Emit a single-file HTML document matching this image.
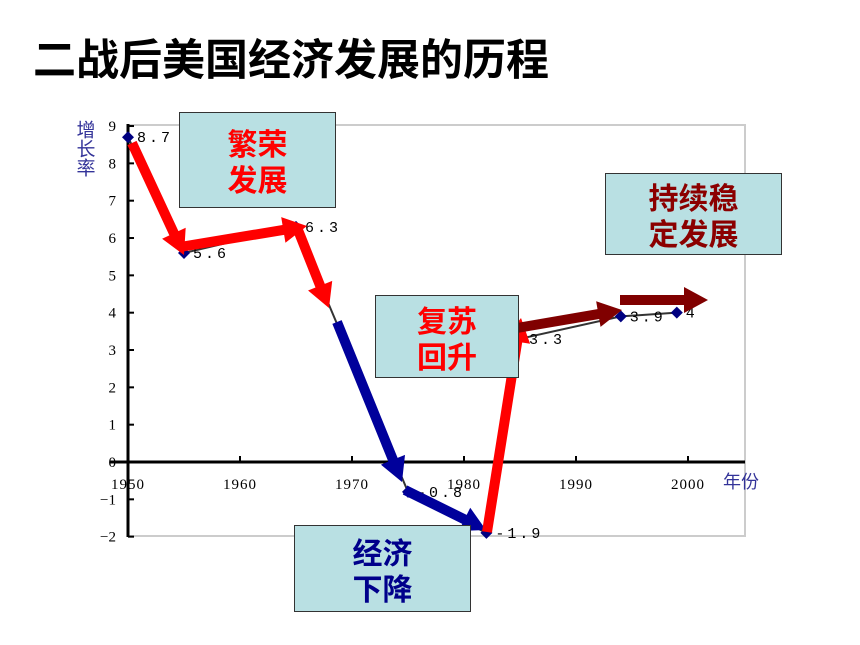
<!DOCTYPE html>
<html><head><meta charset="utf-8"><style>
body{margin:0;background:#fff;width:860px;height:645px;overflow:hidden;font-family:"Liberation Sans","Noto Sans CJK SC",sans-serif}
.box{position:absolute;background:#b9e0e3;border:1px solid #333;box-sizing:border-box;display:flex;align-items:center;justify-content:center;text-align:center;font-weight:bold;font-size:30px;line-height:36px;font-family:"Noto Sans CJK SC",sans-serif}
</style></head><body>
<div style="position:absolute;left:33px;top:26px;font-size:43px;font-weight:bold;font-family:'Noto Sans CJK SC',sans-serif;color:#000">二战后美国经济发展的历程</div>
<svg id="chart" width="860" height="645" style="position:absolute;left:0;top:0"></svg>
<div class="box" style="left:179px;top:112px;width:157px;height:96px;color:#f00">繁荣<br>发展</div>
<div class="box" style="left:605px;top:173px;width:177px;height:82px;color:#8b0000">持续稳<br>定发展</div>
<div class="box" style="left:375px;top:295px;width:144px;height:83px;color:#f00">复苏<br>回升</div>
<div class="box" style="left:294px;top:525px;width:177px;height:87px;color:#00008b">经济<br>下降</div>
<script>
const years=[1950,1955,1965,1975,1982,1985,1994,1999];
const rates=[8.7,5.6,6.3,-0.8,-1.9,3.3,3.9,4];
const yTicks=[-2,-1,0,1,2,3,4,5,6,7,8,9];
const xTicks=[1950,1960,1970,1980,1990,2000];
const X=y=>128+(y-1950)*11.2;
const Y=v=>462-v*37.33;
const s=document.getElementById('chart');
const NS='http://www.w3.org/2000/svg';
function mk(t,a,p){const e=document.createElementNS(NS,t);for(const k in a)e.setAttribute(k,a[k]);(p||s).appendChild(e);return e;}
let e;
e=mk('rect',{x:128,y:125,width:617,height:411,fill:'none',stroke:'#ccc','stroke-width':2});


e=mk('line',{x1:128,y1:124,x2:128,y2:537,stroke:'#000','stroke-width':3});


e=mk('line',{x1:110,y1:Y(0),x2:745,y2:Y(0),stroke:'#000','stroke-width':3});


yTicks.forEach(v=>{
 mk('line',{x1:128,y1:Y(v),x2:134,y2:Y(v),stroke:'#000','stroke-width':2});
 e=mk('text',{x:116,y:Y(v)+5,'text-anchor':'end','font-size':15,'font-family':'Liberation Serif,serif'});
 e.textContent=v<0?'−'+(-v):v;
 
 
});
xTicks.forEach(v=>{
 mk('line',{x1:X(v),y1:Y(0),x2:X(v),y2:Y(0)-6,stroke:'#000','stroke-width':2});
 e=mk('text',{x:X(v),y:489,'text-anchor':'middle','font-size':15,'font-family':'Liberation Serif,serif','letter-spacing':1});
 e.textContent=v;
 
 
});
e=mk('text',{x:723,y:488,'font-size':18,fill:'#333399','font-family':'Noto Sans CJK SC,sans-serif'});
e.textContent='年份';


e=mk('text',{x:86,y:120,'font-size':19,fill:'#333399','font-family':'Noto Sans CJK SC,sans-serif','writing-mode':'tb'});
e.textContent='增长率';


e=mk('polyline',{points:years.map((y,i)=>X(y)+','+Y(rates[i])).join(' '),fill:'none',stroke:'#333','stroke-width':2});


years.forEach((y,i)=>{
 const cx=X(y),cy=Y(rates[i]);
 e=mk('polygon',{points:`${cx},${cy-6} ${cx+6},${cy} ${cx},${cy+6} ${cx-6},${cy}`,fill:'#000080'});
 
 
 e=mk('text',{x:cx+9,y:cy+5,'font-size':15,'font-family':'Liberation Mono,monospace','letter-spacing':3});
 e.textContent=String(rates[i]);
 
 
});
function arrow(x1,y1,x2,y2,c,name){
 const dx=x2-x1,dy=y2-y1,L=Math.hypot(dx,dy),ux=dx/L,uy=dy/L,px=-uy,py=ux;
 const w=5,hw=13,hl=24,bx=x2-ux*hl,by=y2-uy*hl;
 const pts=[[x1+px*w,y1+py*w],[bx+px*w,by+py*w],[bx+px*hw,by+py*hw],[x2,y2],[bx-px*hw,by-py*hw],[bx-px*w,by-py*w],[x1-px*w,y1-py*w]];
 const g=mk('polygon',{points:pts.map(p=>p.join(',')).join(' '),fill:c});
 
 
}
arrow(132,143,184,255,'#f00','boom-arrow-1');
arrow(180,247,307,226,'#f00','boom-arrow-2');
arrow(298,230,329,308,'#f00','boom-arrow-3');
arrow(337,322,402,482,'#00009b','decline-arrow-1');
arrow(405,490,486,530,'#00009b','decline-arrow-2');
arrow(487,532,521,318,'#f00','recovery-arrow');
arrow(517,328,622,310,'#800000','stable-arrow-1');
arrow(620,300,708,300,'#800000','stable-arrow-2');
</script>
</body></html>
